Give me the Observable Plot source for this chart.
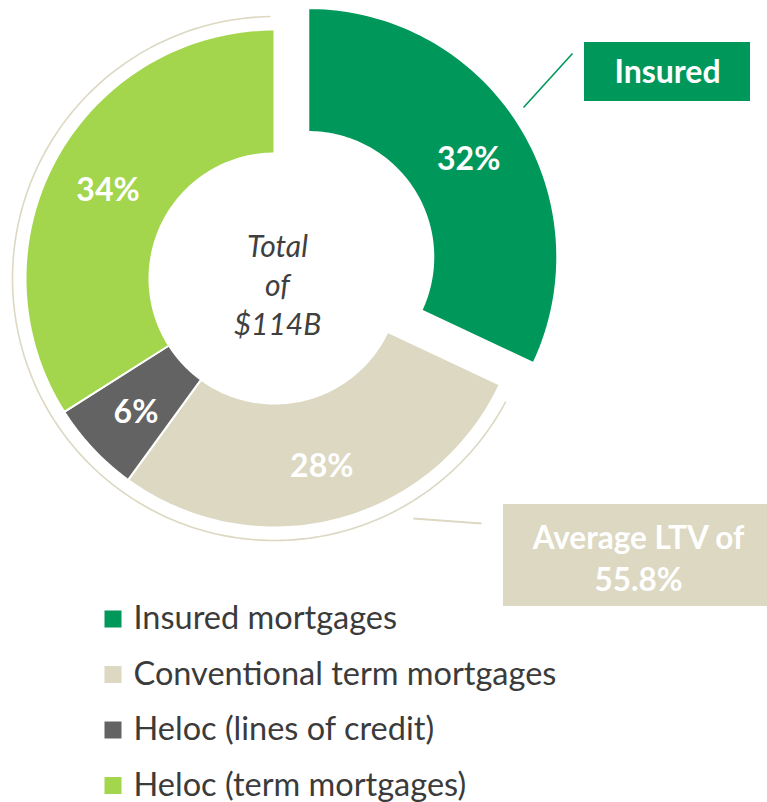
<!DOCTYPE html>
<html>
<head>
<meta charset="utf-8">
<script src="https://cdn.jsdelivr.net/npm/d3@7"></script>
<script src="https://cdn.jsdelivr.net/npm/@observablehq/plot@0.6"></script>
<style>
  html, body { margin: 0; padding: 0; background: #ffffff; }
  #chart { width: 767px; height: 802px; }
</style>
</head>
<body>
<div id="chart"></div>
<script>
// ---------- data ----------
const categories = ["Insured mortgages", "Conventional term mortgages", "Heloc (lines of credit)", "Heloc (term mortgages)"];
const shares = [32, 28, 6, 34];
const sliceLabels = ["32%", "28%", "6%", "34%"];
const exploded = [true, false, false, false];
const colors = ["#00985a", "#dcd8c2", "#636363", "#a3d54d"];
const totalLines = ["Total", "of", "$114B"];
const insuredCallout = ["Insured"];
const ltvCallout = ["Average LTV of", "55.8%"];

// ---------- layout ----------
const W = 767, H = 802;
const cx = 274, cy = 278, R = 249, r0 = 125, explodeDist = 40, arcR = 262;
const total = d3.sum(shares);
const TAU = Math.PI * 2;

const slicePts = [];
const labelPts = [];
let cum = 0;
categories.forEach((cat, i) => {
  const a0 = cum / total * TAU;
  cum += shares[i];
  const a1 = cum / total * TAU;
  const mid = (a0 + a1) / 2;
  const off = exploded[i] ? explodeDist : 0;
  const ox = cx + off * Math.sin(mid), oy = cy - off * Math.cos(mid);
  const n = 90;
  for (let k = 0; k <= n; k++) {
    const a = a0 + (a1 - a0) * k / n;
    slicePts.push({cat, x: ox + R * Math.sin(a), y: oy - R * Math.cos(a)});
  }
  for (let k = n; k >= 0; k--) {
    const a = a0 + (a1 - a0) * k / n;
    slicePts.push({cat, x: ox + r0 * Math.sin(a), y: oy - r0 * Math.cos(a)});
  }
  const rm = (R + r0) / 2 + 3;
  labelPts.push({label: sliceLabels[i], x: ox + rm * Math.sin(mid), y: oy - rm * Math.cos(mid)});
});

// thin bracket arc around the non-insured part
const insuredEnd = shares[0] / total * TAU;
const arcPts = [];
{
  const s = insuredEnd + 3 * Math.PI / 180, e = TAU - 1 * Math.PI / 180, n = 200;
  for (let k = 0; k <= n; k++) {
    const a = s + (e - s) * k / n;
    arcPts.push({x: cx + arcR * Math.sin(a), y: cy - arcR * Math.cos(a)});
  }
}

const legendY0 = 618.5, legendStep = 55.5;

const chart = Plot.plot({
  width: W,
  height: H,
  margin: 0,
  x: {domain: [0, W], range: [0, W], axis: null},
  y: {domain: [0, H], range: [0, H], axis: null},
  color: {domain: categories, range: colors},
  style: {fontFamily: "Lato, 'Open Sans', sans-serif", background: "#ffffff"},
  marks: [
    // bracket arc
    Plot.line(arcPts, {x: "x", y: "y", stroke: colors[1], strokeWidth: 1.6}),
    // donut slices
    Plot.line(slicePts, {x: "x", y: "y", z: "cat", fill: "cat", stroke: "#ffffff", strokeWidth: 2, curve: "linear-closed"}),
    // slice labels
    Plot.text(labelPts, {x: "x", y: "y", dy: 4, text: "label", fill: "#ffffff", fontSize: 32, fontWeight: "bold"}),
    // centre text
    Plot.text([totalLines.join("\n")], {x: cx + 3, y: cy, dy: 5, text: d => d, fill: "#404040", fontSize: 30, fontStyle: "italic", lineHeight: 1.3}),
    // Insured callout
    Plot.link([0], {x1: 523, y1: 107, x2: 572, y2: 53, stroke: colors[0], strokeWidth: 1.6}),
    Plot.rect([0], {x1: 584, x2: 750, y1: 42, y2: 101, fill: colors[0]}),
    Plot.text(insuredCallout, {x: 667, y: 72, text: d => d, fill: "#ffffff", fontSize: 32, fontWeight: "bold"}),
    // LTV callout
    Plot.link([0], {x1: 413, y1: 518, x2: 481, y2: 523, stroke: colors[1], strokeWidth: 2}),
    Plot.rect([0], {x1: 503, x2: 767, y1: 504, y2: 606, fill: colors[1]}),
    Plot.text([ltvCallout.join("\n")], {x: 638, y: 556, text: d => d, fill: "#ffffff", fontSize: 31.5, fontWeight: "bold", lineHeight: 1.33}),
    // legend
    Plot.dot(categories, {x: 112.5, y: (d, i) => legendY0 + i * legendStep, symbol: "square", r: 9.6, fill: d => d}),
    Plot.text(categories, {x: 133, y: (d, i) => legendY0 + i * legendStep, text: d => d, textAnchor: "start", fill: "#3b3b3b", fontSize: 32.5})
  ]
});
document.getElementById("chart").appendChild(chart);
</script>
</body>
</html>
